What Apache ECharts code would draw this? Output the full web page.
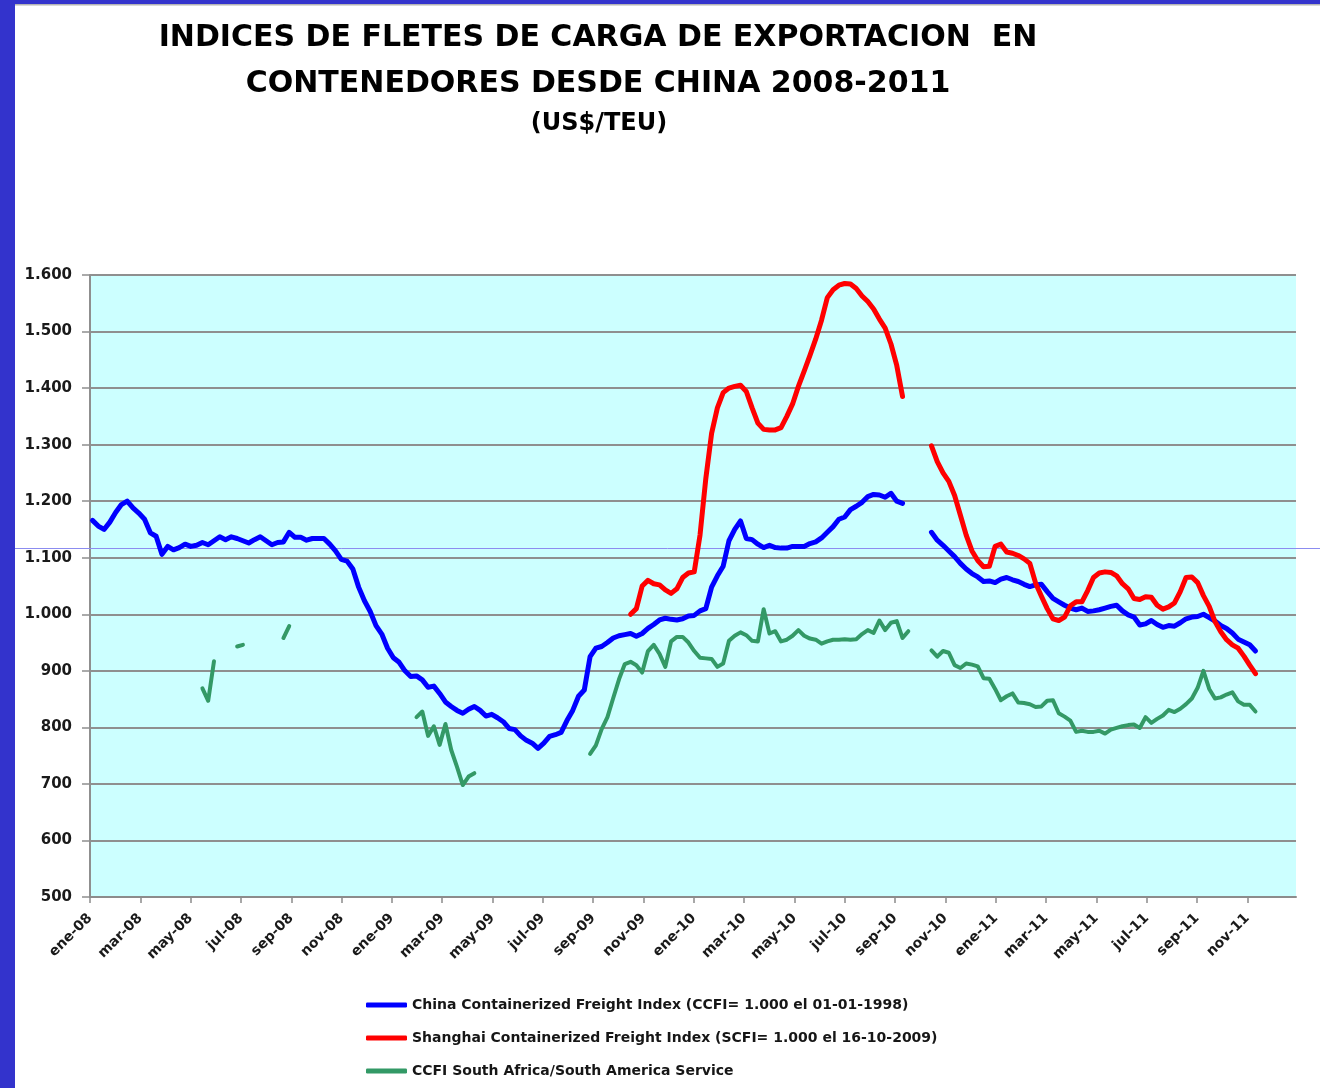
<!DOCTYPE html>
<html>
<head>
<meta charset="utf-8">
<script src="https://cdn.jsdelivr.net/npm/echarts@6/dist/echarts.min.js"></script>
<style>
  html, body { margin: 0; padding: 0; background: #ffffff; }
  #chart { width: 1320px; height: 1088px; }
</style>
</head>
<body>
<div id="chart"></div>
<script>
// ---------- DATA ----------
const titleLine1 = 'INDICES DE FLETES DE CARGA DE EXPORTACION  EN';
const titleLine2 = 'CONTENEDORES DESDE CHINA 2008-2011';
const subTitle = '(US$/TEU)';
const seriesNames = [
  'China Containerized Freight Index (CCFI= 1.000 el 01-01-1998)',
  'Shanghai Containerized Freight Index (SCFI= 1.000 el 16-10-2009)',
  'CCFI South Africa/South America Service'
];
const monthNames = ['ene','feb','mar','abr','may','jun','jul','ago','sep','oct','nov','dic'];
const firstWeek = '2008-01-04';   // weekly observations (Fridays)
const axisStart = '2008-01-01';
const axisEndDays = 1459;

// CCFI (weekly)
const ccfi = [
  1166,1156,1150,1163,1180,1194,1200,1188,1179,1168,
  1144,1138,1106,1120,1114,1118,1124,1120,1122,1127,
  1123,1130,1137,1132,1137,1134,1130,1126,1132,1137,
  1130,1123,1127,1128,1145,1136,1136,1131,1134,1134,
  1134,1124,1112,1097,1094,1080,1048,1024,1005,980,
  965,940,923,915,900,890,891,884,871,873,
  860,845,837,830,825,832,837,830,820,823,
  817,810,798,796,785,777,772,763,772,784,
  787,791,812,830,855,866,925,940,943,950,
  958,962,964,966,961,966,975,982,990,993,
  991,990,992,997,998,1006,1010,1048,1068,1085,
  1130,1150,1165,1134,1132,1124,1118,1122,1118,1117,
  1117,1120,1120,1120,1125,1128,1135,1145,1155,1168,
  1172,1185,1191,1198,1208,1212,1211,1207,1214,1200,
  1196,null,null,null,null,1145,1131,1122,1112,1102,
  1090,1080,1072,1066,1058,1059,1056,1062,1065,1061,
  1058,1053,1049,1052,1053,1040,1028,1022,1016,1011,
  1008,1011,1005,1006,1008,1011,1014,1016,1006,999,
  995,981,983,989,982,977,980,979,985,992,
  995,996,1000,994,988,980,975,967,956,951,
  946,935
];

// SCFI (weekly)
const scfi = [
  null,null,null,null,null,null,null,null,null,null,
  null,null,null,null,null,null,null,null,null,null,
  null,null,null,null,null,null,null,null,null,null,
  null,null,null,null,null,null,null,null,null,null,
  null,null,null,null,null,null,null,null,null,null,
  null,null,null,null,null,null,null,null,null,null,
  null,null,null,null,null,null,null,null,null,null,
  null,null,null,null,null,null,null,null,null,null,
  null,null,null,null,null,null,null,null,null,null,
  null,null,null,1000,1010,1050,1060,1054,1052,1043,
  1037,1045,1065,1073,1075,1140,1240,1320,1365,1392,
  1400,1403,1405,1394,1365,1338,1327,1326,1326,1330,
  1350,1372,1403,1430,1458,1487,1520,1560,1574,1582,
  1585,1584,1576,1563,1553,1540,1522,1506,1478,1440,
  1385,null,null,null,null,1298,1270,1250,1235,1210,
  1175,1140,1112,1095,1084,1085,1120,1124,1110,1108,
  1104,1098,1090,1055,1032,1010,992,989,995,1015,
  1022,1022,1042,1065,1073,1075,1074,1068,1054,1045,
  1028,1026,1031,1030,1016,1009,1013,1020,1040,1065,
  1066,1056,1033,1014,987,969,955,946,940,926,
  910,895
];

// CCFI South Africa / South America (weekly)
const ccfiSA = [
  null,null,null,null,null,null,null,null,null,null,
  null,null,null,null,null,null,null,null,null,869,
  847,917,null,null,null,943,946,null,null,null,
  null,null,null,958,979,null,null,null,null,null,
  null,null,null,null,null,null,null,null,null,null,
  null,null,null,null,null,null,818,828,785,802,
  769,806,760,730,698,713,719,null,null,null,
  null,null,null,null,null,null,null,null,null,null,
  null,null,null,null,null,null,753,768,797,818,
  852,885,912,916,910,897,935,946,930,907,
  952,960,960,950,935,923,922,921,907,913,
  953,962,968,963,953,952,1009,966,970,952,
  955,962,972,962,957,955,948,952,955,955,
  956,955,956,965,972,967,989,972,985,988,
  958,970,null,null,null,936,925,935,932,910,
  905,913,911,908,887,886,868,848,855,860,
  844,843,841,836,837,847,848,825,819,812,
  792,794,792,792,794,789,796,799,802,804,
  805,799,818,808,815,821,831,827,833,841,
  851,870,900,868,851,853,858,862,846,840,
  840,828
];

const yTicks = [500,600,700,800,900,1000,1100,1200,1300,1400,1500,1600];

// ---------- BUILD ----------
const DAY = 86400000;
const t0 = Date.parse(axisStart + 'T00:00:00Z');
const w0 = Date.parse(firstWeek + 'T00:00:00Z');
function weekDays(i) { return (w0 + i * 7 * DAY - t0) / DAY; }
function toPairs(arr) { return arr.map((v, i) => [weekDays(i), v == null ? '-' : v]); }

function fmtThousands(v) {
  if (v >= 1000) return Math.floor(v / 1000) + '.' + String(v % 1000).padStart(3, '0');
  return String(v);
}
function fmtMonth(v) {
  const d = new Date(t0 + (v + 10) * DAY);
  return monthNames[d.getUTCMonth()] + '-' + String(d.getUTCFullYear()).slice(2);
}

const chart = echarts.init(document.getElementById('chart'), null, { renderer: 'canvas' });
const colors = ['#0000ff', '#ff0000', '#339966'];
const widths = [5, 5, 4];
const datasets = [ccfi, scfi, ccfiSA];

const series = [2, 0, 1].map(k => ({
  name: seriesNames[k],
  type: 'line',
  data: toPairs(datasets[k]),
  showSymbol: false,
  symbol: 'none',
  connectNulls: false,
  smooth: false,
  color: colors[k],
  lineStyle: { color: colors[k], width: widths[k], cap: 'round', join: 'round' },
  emphasis: { disabled: true },
  z: 3 + k
}));

const option = {
  animation: false,
  backgroundColor: '#ffffff',
  grid: {
    left: 90, top: 275, width: 1206, height: 622,
    show: true, backgroundColor: '#ccffff', borderWidth: 0
  },
  xAxis: {
    type: 'value',
    min: 0, max: axisEndDays,
    interval: 1461 / 24,
    splitLine: { show: false },
    axisLine: { show: true, onZero: false, lineStyle: { color: '#8c8c8c', width: 2 } },
    axisTick: { show: true, length: 6, lineStyle: { color: '#8c8c8c', width: 1.5 } },
    axisLabel: {
      rotate: 45, margin: 19, showMaxLabel: false, showMinLabel: true,
      formatter: fmtMonth,
      fontFamily: 'DejaVu Sans', fontSize: 14, fontWeight: 'bold', color: '#1a1a1a'
    }
  },
  yAxis: {
    type: 'value',
    min: yTicks[0], max: yTicks[yTicks.length - 1], interval: 100,
    splitLine: { show: true, lineStyle: { color: '#8f8f8f', width: 2 } },
    axisLine: { show: true, lineStyle: { color: '#8f8f8f', width: 2 } },
    axisTick: { show: true, length: 8, lineStyle: { color: '#8f8f8f', width: 1.5 } },
    axisLabel: {
      margin: 18, formatter: fmtThousands,
      fontFamily: 'DejaVu Sans', fontSize: 15, fontWeight: 'bold', color: '#1a1a1a'
    }
  },
  legend: {
    orient: 'vertical',
    left: 366, top: 997,
    padding: 0,
    height: 90,
    data: seriesNames,
    icon: 'roundRect',
    itemWidth: 41, itemHeight: 5,
    itemGap: 17,
    selectedMode: false,
    textStyle: { fontFamily: 'DejaVu Sans', fontSize: 14, fontWeight: 'bold', color: '#161616', lineHeight: 16 }
  },
  graphic: [
    { type: 'rect', left: 0, top: 0, z: 10, shape: { width: 15, height: 1088 }, style: { fill: '#3333cc' } },
    { type: 'rect', left: 0, top: 0, z: 10, shape: { width: 1320, height: 4 }, style: { fill: '#3333cc' } },
    { type: 'rect', left: 15, top: 4, z: 10, shape: { width: 1305, height: 1.5 }, style: { fill: '#b4b4b4' } },
    { type: 'line', z: 1, shape: { x1: 15, y1: 548.5, x2: 1320, y2: 548.5 }, style: { stroke: '#8c8cf0', lineWidth: 1 } },
    { type: 'text', z: 10, x: 598, y: 38, style: { text: titleLine1, align: 'center', verticalAlign: 'middle', fontFamily: 'DejaVu Sans', fontSize: 30, fontWeight: 'bold', fill: '#000000' } },
    { type: 'text', z: 10, x: 598, y: 84, style: { text: titleLine2, align: 'center', verticalAlign: 'middle', fontFamily: 'DejaVu Sans', fontSize: 30, fontWeight: 'bold', fill: '#000000' } },
    { type: 'text', z: 10, x: 599, y: 124, style: { text: subTitle, align: 'center', verticalAlign: 'middle', fontFamily: 'DejaVu Sans', fontSize: 24, fontWeight: 'bold', fill: '#000000' } }
  ],
  series: series
};
chart.setOption(option);
</script>
</body>
</html>
